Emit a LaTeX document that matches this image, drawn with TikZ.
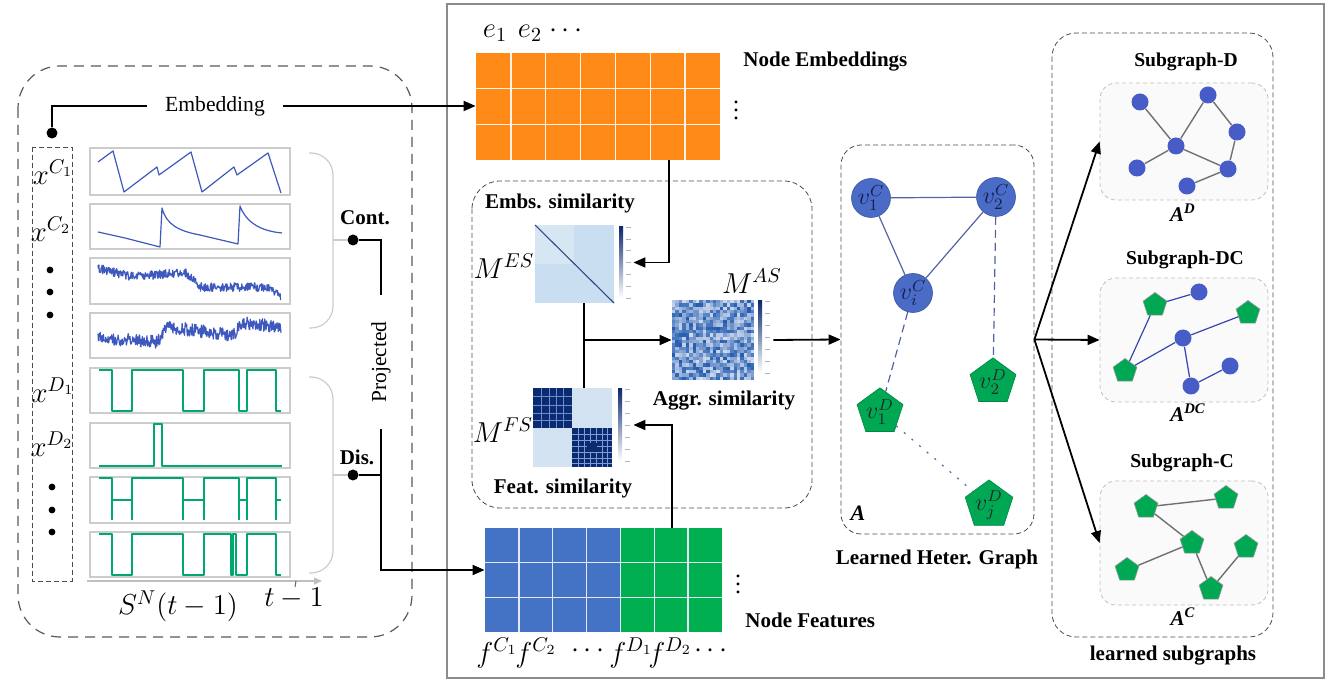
\documentclass[tikz,border=0pt]{standalone}
\usepackage{fontspec}
\setmainfont{Liberation Serif}
\usetikzlibrary{arrows.meta,shapes.geometric,fit}
\definecolor{orM}{RGB}{255,138,24}
\definecolor{blueM}{RGB}{68,114,196}
\definecolor{greenM}{RGB}{0,176,80}
\definecolor{tsblue}{RGB}{62,88,190}
\definecolor{tsgreen}{RGB}{0,168,110}
\definecolor{nodeblue}{RGB}{74,108,198}
\definecolor{nodegreen}{RGB}{0,168,84}
\definecolor{sgblue}{RGB}{72,92,200}
\definecolor{gedgec}{RGB}{84,98,165}
\definecolor{dcedge}{RGB}{52,70,175}
\definecolor{grayedge}{RGB}{112,112,112}
\definecolor{esbg}{RGB}{201,222,240}
\definecolor{fsbg}{RGB}{212,227,242}
\definecolor{navy}{RGB}{12,42,112}
\definecolor{asb}{RGB}{20,80,170}
\definecolor{navytext}{RGB}{20,30,80}
\newcommand{\mycbar}[3]{%
  \shade[top color=navy, bottom color=white] (#1,#2) rectangle ({#1+4},#3);
  \foreach \k in {0,...,6}{\draw[black!30, line width=0.3pt] ({#1+7},{#2+(#3-#2)*\k/6}) -- ({#1+12},{#2+(#3-#2)*\k/6});}%
}
\begin{document}
\begin{tikzpicture}[x=0.5pt,y=-0.5pt,
  arr/.style={-{Triangle[length=6pt,width=5pt]}, line width=0.9pt},
  conn/.style={line width=0.9pt},
  dotn/.style={circle, fill=black, inner sep=0pt, minimum size=5.5pt},
  lbl/.style={font=\bfseries\fontsize{10.5}{12}\selectfont, inner sep=1pt},
  sglbl/.style={font=\bfseries\fontsize{9.8}{12}\selectfont, inner sep=1pt},
  mathl/.style={font=\fontsize{14}{16}\selectfont, inner sep=0pt},
  panel/.style={draw=black!20, line width=0.6pt, fill=white},
  thindash/.style={draw=black!70, line width=0.4pt, dash pattern=on 2.5pt off 1.5pt},
  faint/.style={draw=black!20, line width=0.6pt},
  fitbox/.style={inner sep=0pt},
  cn/.style={circle, fill=nodeblue, draw=nodeblue!80!black, line width=0.3pt, minimum size=19.5pt, inner sep=0pt, font=\fontsize{11.5}{12}\selectfont, text=navytext},
  pn/.style={regular polygon, regular polygon sides=5, fill=nodegreen, draw=nodegreen!80!black, line width=0.3pt, minimum size=21pt, inner sep=0pt, font=\fontsize{11.5}{12}\selectfont, text=black!85},
  sc/.style={circle, fill=sgblue, minimum size=8.5pt, inner sep=0pt},
  sp/.style={regular polygon, regular polygon sides=5, fill=nodegreen, draw=gray!80, line width=0.3pt, minimum size=12.5pt, inner sep=0pt},
  gedge/.style={draw=gedgec, line width=0.6pt},
  sgedge/.style={draw=grayedge, line width=0.7pt},
  dcedg/.style={draw=dcedge, line width=0.6pt},
  subbox/.style={draw=black!25, fill=black!2, line width=0.4pt, dash pattern=on 2pt off 1.5pt, rounded corners=8pt, inner sep=0pt},
  ts/.style={line width=0.6pt, line join=round},
  noisy/.style={tsblue, line width=0.6pt, line join=round}
]
\useasboundingbox (0,0) rectangle (1331,688);
\pgfmathsetseed{42}

% ================= LEFT PART =================
\draw[black!65, line width=0.6pt, dash pattern=on 5pt off 3.5pt, rounded corners=21pt] (18,66) rectangle (412,637);
\draw[thindash] (32,147) rectangle (72,581);

% panels
\foreach \a/\b in {148/195,204/249,258/304,313/358,368/413,423/468,477/523,532/577}
  \draw[panel] (90,\a) rectangle (290,\b);

% panel 1
\draw[tsblue, ts] (98,162) -- (113,151) -- (124,192) -- (157,167) -- (159,175) -- (191,152) -- (202,192) -- (234,167) -- (237,175) -- (268,153) -- (281,193);
% panel 2
\draw[tsblue, ts] (98,232) -- (125,238) -- (160,247) -- (162,208) .. controls (166,224) and (178,231) .. (200,235) -- (238,244) -- (240,206) .. controls (246,222) and (260,231) .. (282,233);
% panel 3
\draw[noisy] plot[domain=98:133, samples=80] (\x,{268+(\x-98)*9/35+4.5*rand})
  -- plot[domain=133:185, samples=120] (\x,{277-(\x-133)*5/52+4.5*rand})
  -- plot[domain=185:200, samples=35] (\x,{272+(\x-185)*15/15+4.5*rand})
  -- plot[domain=200:267, samples=150] (\x,{287+4.5*rand})
  -- plot[domain=267:281, samples=32] (\x,{287+(\x-267)*9/14+4*rand});
% panel 4
\draw[noisy] plot[domain=98:157, samples=130] (\x,{338+(\x-98)*4/59+6.5*rand})
  -- plot[domain=157:167, samples=22] (\x,{342-(\x-157)*15/10+6.5*rand})
  -- plot[domain=167:233, samples=145] (\x,{327+(\x-167)*8/66+6.5*rand})
  -- plot[domain=233:243, samples=22] (\x,{335-(\x-233)*12/10+6.5*rand})
  -- plot[domain=243:281, samples=85] (\x,{323+(\x-243)*4/38+6.5*rand});
% panel 5
\draw[tsgreen, ts] (99,370) -- (112,370) -- (112,411) -- (132,411) -- (132,370) -- (183,370) -- (183,411) -- (204,411) -- (204,370) -- (239,370) -- (239,411) -- (247,411) -- (247,370) -- (276,370) -- (276,411) -- (281,411);
% panel 6
\draw[tsgreen, ts] (99,466) -- (154,466) -- (154,424) -- (162,424) -- (162,466) -- (282,466);
% panel 7
\draw[tsgreen, ts] (99,478) -- (112,478) -- (112,520) (112,500) -- (132,500) (132,520) -- (132,478) -- (183,478) -- (183,520) (183,500) -- (204,500) (204,520) -- (204,478) -- (239,478) -- (239,520) (239,500) -- (247,500) (247,520) -- (247,478) -- (276,478) -- (276,520) (276,500) -- (281,500);
% panel 8
\draw[tsgreen, ts] (99,534) -- (112,534) -- (112,575) -- (132,575) -- (132,534) -- (183,534) -- (183,575) -- (204,575) -- (204,534) -- (231,534) -- (231,575) -- (233,575) -- (233,534) -- (236,534) -- (236,575) -- (247,575) -- (247,534) -- (276,534) -- (276,575) -- (281,575);

% axis
\draw[black!25, line width=0.6pt, -{Triangle[length=4pt,width=3.5pt]}] (87,581) -- (322,581);
\draw[black!60, line width=0.5pt] (296,581) -- (295,587);

% variable labels
\node[mathl] at (53,172) {$x^{C_1}$};
\node[mathl] at (51,229) {$x^{C_2}$};
\node[mathl] at (53,390) {$x^{D_1}$};
\node[mathl] at (52,444) {$x^{D_2}$};
\foreach \yy in {270,292,315} \fill (50,\yy) circle (1.7pt);
\foreach \yy in {487,510,532} \fill (52,\yy) circle (1.7pt);
\node[mathl] at (178,606) {$S^{N}\!\left(t-1\right)$};
\node[mathl] at (294,598) {$t-1$};

% brackets
\draw[faint, rounded corners=11pt] (309,153) -- (333,153) -- (333,328) -- (309,328);
\draw[faint, rounded corners=11pt] (309,377) -- (333,377) -- (333,573) -- (309,573);
\node[dotn] (dC) at (353,240) {};
\node[dotn] (dD) at (353,475) {};
\draw[faint] (333,240) -- (dC);
\draw[faint] (333,475) -- (dD);
\node[lbl] at (365,218) {Cont.};
\node[lbl] at (357,457) {Dis.};

% embedding
\node[dotn] (dE) at (52,133) {};
\node[font=\fontsize{10.8}{12}\selectfont, inner xsep=9pt, inner ysep=2pt] (embt) at (215,106) {Embedding};

% projected
\node[rotate=90, font=\fontsize{10.7}{12}\selectfont, inner xsep=13pt, inner ysep=0pt] (proj) at (381,362) {Projected};

% ================= MAIN BOX =================
\draw[black!45, line width=1pt] (447,4) rectangle (1324,678);

% orange embedding matrix
\fill[orM] (476,53) rectangle (720,160);
\foreach \i in {1,...,6} \draw[white!90!orM, line width=0.7pt] ({476+\i*244/7},53) -- ({476+\i*244/7},160);
\foreach \j in {1,2} \draw[white!90!orM, line width=0.7pt] (476,{53+\j*107/3}) -- (720,{53+\j*107/3});
\node[fitbox, fit={(476,53) (720,160)}] (emb) {};
\node[mathl] at (495,33) {$e_1$};
\node[mathl] at (530,33) {$e_2$};
\node[mathl] at (566,31) {$\cdots$};
\node[font=\fontsize{12}{12}\selectfont] at (736,104) {$\vdots$};
\node[lbl, anchor=west] at (741,62) {Node Embeddings};

% feature matrix
\fill[blueM] (485,528) rectangle (621,632);
\fill[greenM] (621,528) rectangle (722,632);
\foreach \i in {1,...,6} \draw[white!85!blueM, line width=0.7pt] ({485+\i*237/7},528) -- ({485+\i*237/7},632);
\foreach \j in {1,2} \draw[white!85!blueM, line width=0.7pt] (485,{528+\j*104/3}) -- (722,{528+\j*104/3});
\node[fitbox, fit={(485,528) (722,632)}] (featM) {};
\node[font=\fontsize{12}{12}\selectfont] at (738,578) {$\vdots$};
\node[lbl, anchor=west] at (743,620) {Node Features};
\node[mathl] at (497,653) {$f^{C_1}$};
\node[mathl] at (536,653) {$f^{C_2}$};
\node[mathl] at (588,651) {$\cdots$};
\node[mathl] at (631,653) {$f^{D_1}$};
\node[mathl] at (670,653) {$f^{D_2}$};
\node[mathl] at (711,651) {$\cdots$};

% similarity box
\draw[thindash, rounded corners=14pt] (472,181) rectangle (812,508);
\node[lbl] at (560,203) {Embs. similarity};
\node[lbl] at (563,488) {Feat. similarity};
\node[lbl] at (724,401) {Aggr. similarity};

% M^ES
\fill[esbg] (535,225) rectangle (614,303);
\fill[white, opacity=0.25] (535,225) rectangle (574,264);
\draw[navy!85, line width=0.55pt] (535,225) -- (614,303);
\node[fitbox, fit={(535,225) (614,303)}] (mES) {};
\mycbar{619}{227}{298}
\node[fitbox, fit={(619,227) (633,298)}] (cbES) {};
\node[mathl] at (504,266) {$M^{ES}$};

% M^FS
\fill[fsbg] (533,388) rectangle (612,467);
\fill[navy] (533,388) rectangle (572,428);
\fill[navy] (572,428) rectangle (612,467);
\foreach \p in {541,549,556,563} \draw[blueM!80!white, line width=0.35pt] (\p,388) -- (\p,428);
\foreach \p in {396,405,413,420} \draw[blueM!80!white, line width=0.35pt] (533,\p) -- (572,\p);
\foreach \p in {578,584,590,596,602,607} \draw[blueM!70!white, line width=0.45pt] (\p,428) -- (\p,467);
\foreach \p in {434,440,446,452,458,463} \draw[blueM!70!white, line width=0.45pt] (572,\p) -- (612,\p);
\fill[navy] (587,443) rectangle (597,452);
\node[fitbox, fit={(533,388) (612,467)}] (mFS) {};
\mycbar{618}{389}{461}
\node[fitbox, fit={(618,389) (633,461)}] (cbFS) {};
\node[mathl] at (503,430) {$M^{FS}$};

% M^AS
\foreach \i in {0,...,23}{\foreach \j in {0,...,23}{
  \pgfmathsetmacro{\v}{int(20+75*rnd)}
  \fill[asb!\v!white] ({672+\i*82/24},{300+\j*80/24}) rectangle ({672+(\i+1)*82/24+0.4},{300+(\j+1)*80/24+0.4});
}}
\node[fitbox, fit={(672,300) (754,380)}] (mAS) {};
\mycbar{758}{301}{373}
\node[fitbox, fit={(758,301) (773,373)}] (cbAS) {};
\node[mathl] at (752,281) {$M^{AS}$};

% ================= HETEROGENEOUS GRAPH =================
\node[thindash, rounded corners=10pt, fitbox, fit={(841,145) (1034,534)}] (graph) {};
\node[cn] (g1) at (871,198) {$v_1^C$};
\node[cn] (g2) at (996,197) {$v_2^C$};
\node[cn] (gi) at (913,293) {$v_i^C$};
\node[pn] (h2) at (993,382) {$v_2^D$};
\node[pn] (h1) at (880,412) {$v_1^D$};
\node[pn] (hj) at (989,505) {$v_j^D$};
\draw[gedge] (g1) -- (g2);
\draw[gedge] (g1) -- (gi);
\draw[gedge] (g2) -- (gi);
\draw[gedge, dash pattern=on 4pt off 2.5pt] (g2) -- (h2);
\draw[gedge, dash pattern=on 4pt off 2.5pt] (gi) -- (h1);
\draw[gedge, dash pattern=on 1pt off 4pt] (h1) -- (hj);
\node[font=\bfseries\itshape\fontsize{11}{12}\selectfont] at (858,513) {A};
\node[lbl] at (937,559) {Learned Heter. Graph};

% ================= SUBGRAPHS =================
\draw[thindash, rounded corners=12pt] (1052,33) rectangle (1273,637);
\node[lbl] at (1173,656) {learned subgraphs};
\node[sglbl] at (1186,62) {Subgraph-D};
\node[sglbl] at (1185,260) {Subgraph-DC};
\node[sglbl] at (1182,463) {Subgraph-C};
\node[subbox, fit={(1100,83) (1268,200)}] (subD) {};
\node[subbox, fit={(1100,278) (1268,402)}] (subDC) {};
\node[subbox, fit={(1100,481) (1268,605)}] (subC) {};
\node[font=\bfseries\itshape\fontsize{10.5}{12}\selectfont] at (1183,213) {A\textsuperscript{D}};
\node[font=\bfseries\itshape\fontsize{10.5}{12}\selectfont] at (1188,413) {A\textsuperscript{DC}};
\node[font=\bfseries\itshape\fontsize{10.5}{12}\selectfont] at (1183,617) {A\textsuperscript{C}};

% subgraph D
\node[sc] (a1) at (1140,102) {};
\node[sc] (a2) at (1208,95) {};
\node[sc] (a3) at (1237,132) {};
\node[sc] (a4) at (1176,146) {};
\node[sc] (a5) at (1137,168) {};
\node[sc] (a6) at (1228,169) {};
\node[sc] (a7) at (1187,186) {};
\draw[sgedge] (a1) -- (a4) (a4) -- (a2) (a2) -- (a3) (a3) -- (a6) (a4) -- (a6) (a4) -- (a5) (a6) -- (a7);

% subgraph DC
\node[sp] (b1) at (1155,305) {};
\node[sc] (b2) at (1199,292) {};
\node[sp] (b3) at (1248,313) {};
\node[sc] (b4) at (1183,338) {};
\node[sp] (b5) at (1125,371) {};
\node[sc] (b6) at (1191,386) {};
\node[sc] (b7) at (1230,366) {};
\draw[dcedg] (b1) -- (b2) (b1) -- (b5) (b5) -- (b4) (b4) -- (b3) (b4) -- (b6) (b6) -- (b7);

% subgraph C
\node[sp] (c1) at (1146,507) {};
\node[sp] (c2) at (1226,498) {};
\node[sp] (c3) at (1192,543) {};
\node[sp] (c4) at (1246,547) {};
\node[sp] (c5) at (1127,570) {};
\node[sp] (c6) at (1211,589) {};
\draw[sgedge] (c1) -- (c2) (c1) -- (c3) (c3) -- (c5) (c3) -- (c6) (c6) -- (c4);

% ================= CONNECTORS =================
\draw[conn] (dE) |- (embt.west);
\draw[arr] (embt.east) -- (embt.east -| emb.west);
\draw[conn] (dC) -| (proj.east);
\draw[conn] (dD) -- (dD -| proj.west);
\draw[arr] (proj.west) |- ([yshift=5pt]featM.west);
\draw[arr] ([xshift=35.5pt]emb.south) |- (cbES.east);
\draw[conn] ([xshift=4.75pt]mES.south) -- ([xshift=5.75pt]mFS.north);
\draw[arr] ([xshift=4.75pt]mES.south |- mAS.west) -- (mAS.west);
\draw[arr] ([xshift=34.25pt]featM.north) |- (cbFS.east);
\draw[arr] (cbAS.east |- mAS.east) -- (graph.west);
\draw[arr] (graph.east) -- (subD.west);
\draw[arr] (graph.east) -- (subDC.west);
\draw[arr] (graph.east) -- (subC.west);
\end{tikzpicture}
\end{document}
